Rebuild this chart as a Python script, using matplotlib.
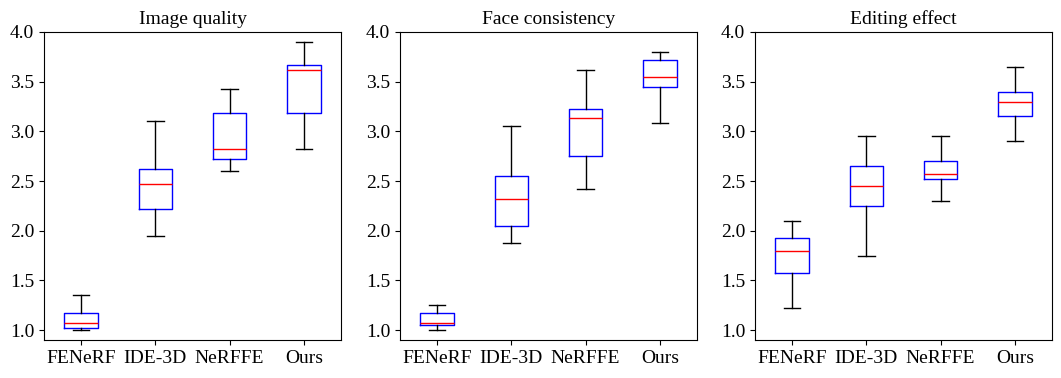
#!/usr/bin/env python3
"""User study box plots: image quality, face consistency, editing effect."""

import matplotlib
matplotlib.use('Agg')
import matplotlib.pyplot as plt

methods = ['FENeRF', 'IDE-3D', 'NeRFFE', 'Ours']
titles = ['Image quality', 'Face consistency', 'Editing effect']

# per panel: lower whisker, Q1, median, Q3, upper whisker (one value per method)
quality_lo = [1.00, 1.95, 2.60, 2.82]
quality_q1 = [1.02, 2.22, 2.72, 3.18]
quality_med = [1.07, 2.47, 2.82, 3.62]
quality_q3 = [1.17, 2.62, 3.18, 3.67]
quality_hi = [1.35, 3.10, 3.43, 3.90]

face_lo = [1.00, 1.88, 2.42, 3.08]
face_q1 = [1.05, 2.05, 2.75, 3.45]
face_med = [1.07, 2.32, 3.13, 3.55]
face_q3 = [1.17, 2.55, 3.23, 3.72]
face_hi = [1.25, 3.05, 3.62, 3.80]

edit_lo = [1.22, 1.75, 2.30, 2.90]
edit_q1 = [1.57, 2.25, 2.52, 3.15]
edit_med = [1.80, 2.45, 2.57, 3.30]
edit_q3 = [1.93, 2.65, 2.70, 3.40]
edit_hi = [2.10, 2.95, 2.95, 3.65]

panels = [
    (quality_lo, quality_q1, quality_med, quality_q3, quality_hi),
    (face_lo, face_q1, face_med, face_q3, face_hi),
    (edit_lo, edit_q1, edit_med, edit_q3, edit_hi),
]

plt.rcParams['font.family'] = ['Liberation Serif', 'DejaVu Serif']
plt.rcParams['font.size'] = 14

fig = plt.figure(figsize=(10.61, 3.78), dpi=100)
lefts = [44, 400, 755]
W, H = 1061, 378

for i, (lo, q1, med, q3, hi) in enumerate(panels):
    ax = fig.add_axes([lefts[i] / W, (H - 340) / H, 297 / W, 308 / H])
    stats = []
    for j, name in enumerate(methods):
        stats.append({'label': name, 'whislo': lo[j], 'q1': q1[j], 'med': med[j],
                      'q3': q3[j], 'whishi': hi[j], 'fliers': []})
    ax.bxp(stats, widths=0.45, showfliers=False,
           boxprops=dict(color='blue'),
           medianprops=dict(color='red'),
           whiskerprops=dict(color='black'),
           capprops=dict(color='black'))
    ax.set_ylim(0.9, 4.0)
    ax.set_yticks([1.0, 1.5, 2.0, 2.5, 3.0, 3.5, 4.0])
    ax.set_title(titles[i], fontsize=14)

plt.savefig('out.png', dpi=100)
plt.close()
